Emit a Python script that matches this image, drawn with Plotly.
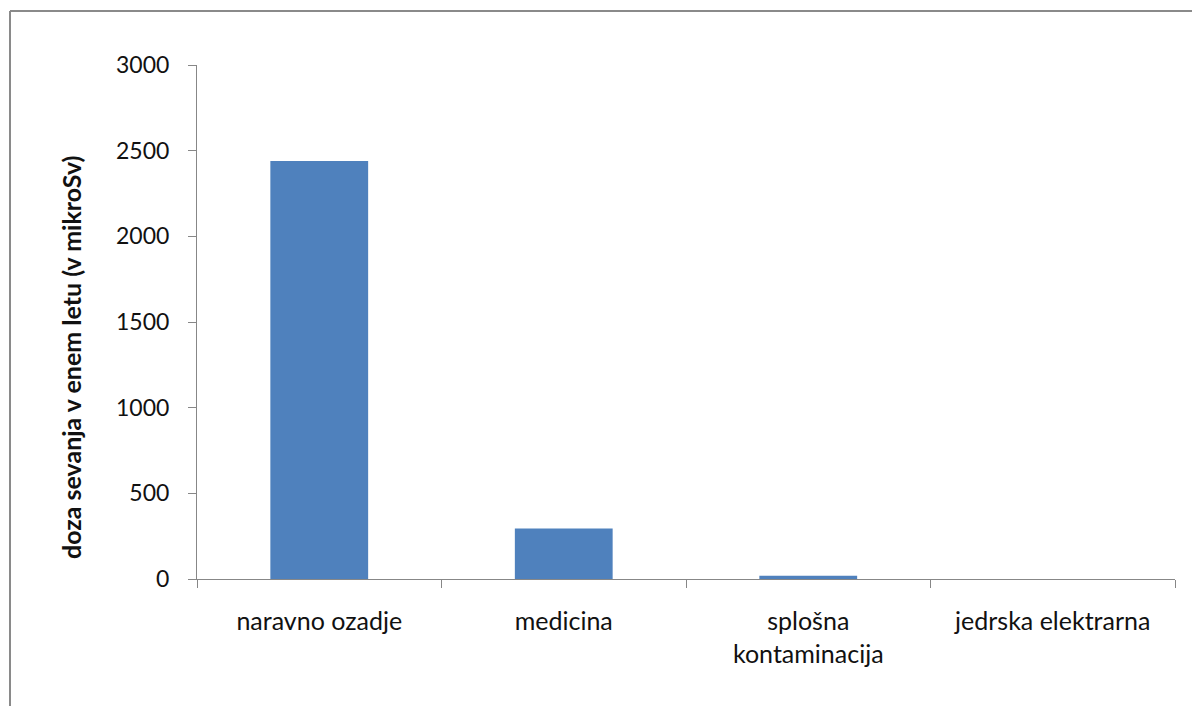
import plotly.graph_objects as go

# Annual radiation dose by source (microsievert)
categories = ["naravno ozadje", "medicina", "splošna<br>kontaminacija", "jedrska elektrarna"]
doses = [2440, 295, 19, 0]
y_ticks = [0, 500, 1000, 1500, 2000, 2500, 3000]
y_title = "doza sevanja v enem letu (v mikroSv)"

W, H = 1192, 706
L, R, T, B = 197, 17, 65, 127
pw, ph = W - L - R, H - T - B

FONT = "Lato"
AXIS_GREY = "#878787"
BAR_BLUE = "#4F81BD"
TEXT = "#111111"


def px_x(px):
    return (px - L) / pw


def px_y(py):
    return (H - B - py) / ph


fig = go.Figure(
    go.Bar(
        x=categories,
        y=doses,
        marker=dict(color=BAR_BLUE, line=dict(width=0)),
        width=0.4,
        hoverinfo="x+y",
    )
)

fig.update_layout(
    width=W,
    height=H,
    margin=dict(l=L, r=R, t=T, b=B, pad=0),
    paper_bgcolor="white",
    plot_bgcolor="white",
    showlegend=False,
    font=dict(family=FONT, size=24, color=TEXT),
    xaxis=dict(
        type="category",
        tickson="boundaries",
        ticks="outside",
        ticklen=8,
        tickcolor=AXIS_GREY,
        tickwidth=1,
        showline=True,
        linecolor=AXIS_GREY,
        linewidth=1,
        showgrid=False,
        zeroline=False,
        ticklabelstandoff=20,
        tickfont=dict(family=FONT, size=25, color=TEXT),
    ),
    yaxis=dict(
        range=[0, 3000],
        tickvals=y_ticks,
        ticks="outside",
        ticklen=8,
        tickcolor=AXIS_GREY,
        tickwidth=1,
        showline=True,
        linecolor=AXIS_GREY,
        linewidth=1,
        showgrid=False,
        zeroline=False,
        ticklabelstandoff=14,
        tickfont=dict(family=FONT, size=23, color=TEXT),
    ),
)

# Rotated axis title
fig.add_annotation(
    text=y_title,
    textangle=-90,
    xref="paper",
    yref="paper",
    x=px_x(71),
    y=px_y(358),
    xanchor="center",
    yanchor="middle",
    showarrow=False,
    font=dict(family=FONT, size=25, color=TEXT, weight="bold"),
)

# Chart-area frame (left and top edges)
fig.add_shape(
    type="line", xref="paper", yref="paper",
    x0=px_x(10), x1=px_x(10), y0=px_y(11), y1=px_y(H + 20),
    line=dict(color="#8a8a8a", width=2),
)
fig.add_shape(
    type="line", xref="paper", yref="paper",
    x0=px_x(10), x1=px_x(W + 20), y0=px_y(11), y1=px_y(11),
    line=dict(color="#8a8a8a", width=2),
)

fig.write_html("out.html")
